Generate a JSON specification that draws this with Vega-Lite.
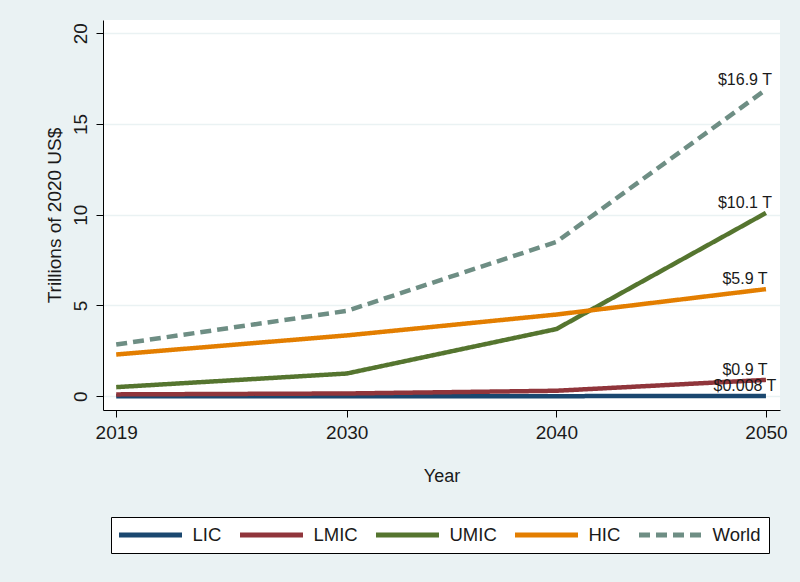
{
  "$schema": "https://vega.github.io/schema/vega-lite/v6.json",
  "width": 677,
  "height": 390,
  "autosize": {"type": "none"},
  "padding": {"left": 103, "top": 20, "right": 20, "bottom": 172},
  "background": "#eaf2f3",
  "config": {"view": {"fill": "white", "stroke": null}, "font": "Liberation Sans"},
  "data": {"values": [
    {"group": "LIC", "year": 2019, "value": 0.001, "label": ""},
    {"group": "LIC", "year": 2030, "value": 0.002, "label": ""},
    {"group": "LIC", "year": 2040, "value": 0.004, "label": ""},
    {"group": "LIC", "year": 2050, "value": 0.008, "label": "$0.008 T"},
    {"group": "LMIC", "year": 2019, "value": 0.1, "label": ""},
    {"group": "LMIC", "year": 2030, "value": 0.15, "label": ""},
    {"group": "LMIC", "year": 2040, "value": 0.3, "label": ""},
    {"group": "LMIC", "year": 2050, "value": 0.9, "label": "$0.9 T"},
    {"group": "UMIC", "year": 2019, "value": 0.5, "label": ""},
    {"group": "UMIC", "year": 2030, "value": 1.25, "label": ""},
    {"group": "UMIC", "year": 2040, "value": 3.7, "label": ""},
    {"group": "UMIC", "year": 2050, "value": 10.1, "label": "$10.1 T"},
    {"group": "HIC", "year": 2019, "value": 2.3, "label": ""},
    {"group": "HIC", "year": 2030, "value": 3.35, "label": ""},
    {"group": "HIC", "year": 2040, "value": 4.5, "label": ""},
    {"group": "HIC", "year": 2050, "value": 5.9, "label": "$5.9 T"},
    {"group": "World", "year": 2019, "value": 2.85, "label": ""},
    {"group": "World", "year": 2030, "value": 4.7, "label": ""},
    {"group": "World", "year": 2040, "value": 8.5, "label": ""},
    {"group": "World", "year": 2050, "value": 16.9, "label": "$16.9 T"}
  ]},
  "encoding": {
    "x": {"field": "year", "type": "quantitative",
      "scale": {"domain": [2018.37, 2050.67], "nice": false, "zero": false},
      "axis": {"values": [2019, 2030, 2040, 2050], "format": "d", "title": "Year",
        "titleFontSize": 18, "titleFontWeight": "normal", "titlePadding": 25, "titleColor": "#1a1a1a",
        "labelFontSize": 19, "labelColor": "#1a1a1a", "labelPadding": 6,
        "grid": false, "domainColor": "black", "tickColor": "black", "tickSize": 7}},
    "y": {"field": "value", "type": "quantitative",
      "scale": {"domain": [-0.76, 20.73], "nice": false, "zero": false},
      "axis": {"values": [0, 5, 10, 15, 20], "title": "Trillions of 2020 US$",
        "titleFontSize": 19, "titleFontWeight": "normal", "titlePadding": 7, "titleColor": "#1a1a1a",
        "labelFontSize": 19, "labelColor": "#1a1a1a", "labelAngle": 270, "labelPadding": 6,
        "grid": true, "gridColor": "#eaf2f3", "gridWidth": 1.5,
        "domainColor": "black", "tickColor": "black", "tickSize": 7}}
  },
  "layer": [
    {
      "mark": {"type": "line", "strokeWidth": 4.5, "strokeCap": "butt"},
      "encoding": {
        "color": {"field": "group", "type": "nominal",
          "scale": {"domain": ["LIC", "LMIC", "UMIC", "HIC", "World"],
            "range": ["#1a476f", "#90353b", "#55752f", "#e37e00", "#6e8e84"]},
          "legend": {"title": null, "orient": "none", "legendX": 8, "legendY": 497, "direction": "horizontal",
            "symbolType": "M-4.2,0H4.2", "symbolSize": 225, "symbolStrokeWidth": 5, "symbolOffset": 21.5,
            "labelFontSize": 18.5, "labelColor": "#1a1a1a", "labelOffset": 32, "columnPadding": 8,
            "padding": 8, "strokeColor": "black", "fillColor": "white"}},
        "strokeDash": {"field": "group", "type": "nominal",
          "scale": {"domain": ["LIC", "LMIC", "UMIC", "HIC", "World"],
            "range": [[1, 0], [1, 0], [1, 0], [1, 0], [11, 6]]},
          "legend": {"title": null, "orient": "none", "legendX": 8, "legendY": 497, "direction": "horizontal",
            "symbolType": "M-4.2,0H4.2", "symbolSize": 225, "symbolStrokeWidth": 5, "symbolOffset": 21.5,
            "labelFontSize": 18.5, "labelColor": "#1a1a1a", "labelOffset": 32, "columnPadding": 8,
            "padding": 8, "strokeColor": "black", "fillColor": "white"}}
      }
    },
    {
      "transform": [{"filter": "datum.label != ''"}],
      "mark": {"type": "text", "dx": -21, "dy": -5, "baseline": "alphabetic", "align": "center", "fontSize": 16, "color": "#1a1a1a"},
      "encoding": {"text": {"field": "label"}}
    }
  ]
}
